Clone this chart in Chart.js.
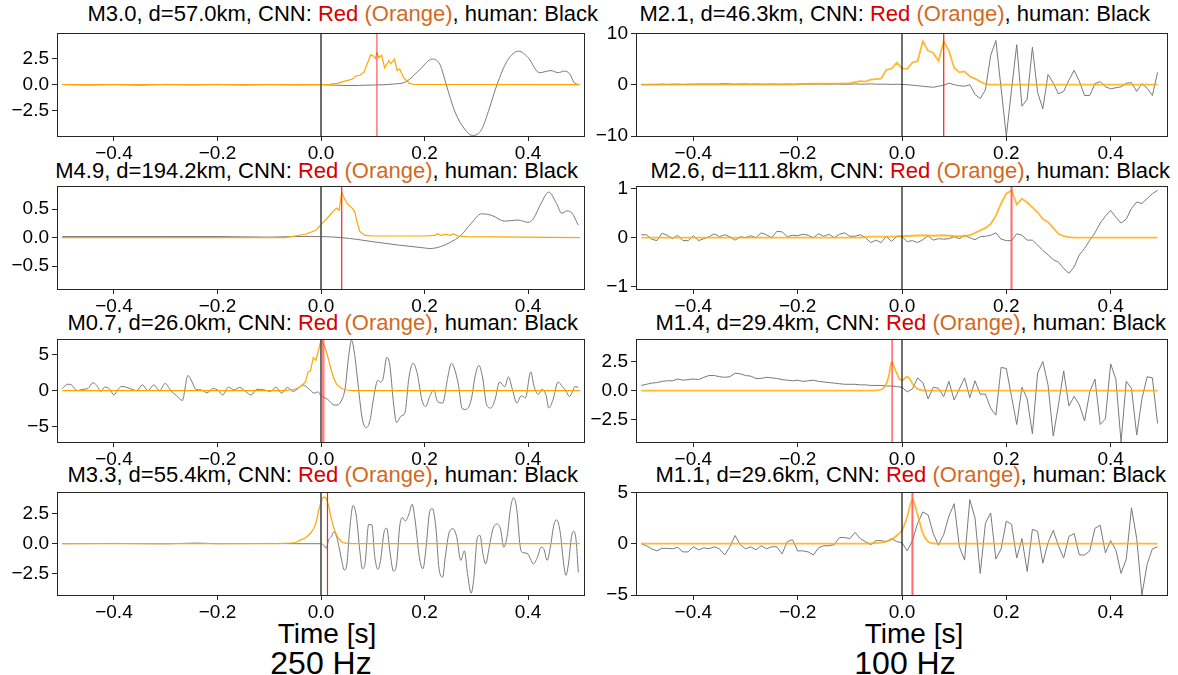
<!DOCTYPE html>
<html>
<head>
<meta charset="utf-8">
<script src="https://cdn.jsdelivr.net/npm/chart.js@4.4.1/dist/chart.umd.min.js"></script>
<style>
  body { margin: 0; background: #fff; width: 1178px; height: 675px; position: relative; overflow: hidden;
         font-family: "Liberation Sans", Arial, sans-serif; }
  canvas { position: absolute; }
  .title { position: absolute; white-space: nowrap; font-size: 22px; line-height: 24px; color: #000; }
  .red { color: #d40000; }
  .org { color: #d2691e; }
  .xlab { position: absolute; width: 400px; text-align: center; color: #000; white-space: nowrap; }
</style>
</head>
<body>

<div class="title" style="right:580px; top:2px;">M3.0, d=57.0km, CNN: <span class="red">Red</span> <span class="org">(Orange)</span>, human: Black</div>
<div class="title" style="right:600px; top:159px;">M4.9, d=194.2km, CNN: <span class="red">Red</span> <span class="org">(Orange)</span>, human: Black</div>
<div class="title" style="right:600px; top:311px;">M0.7, d=26.0km, CNN: <span class="red">Red</span> <span class="org">(Orange)</span>, human: Black</div>
<div class="title" style="right:600px; top:463px;">M3.3, d=55.4km, CNN: <span class="red">Red</span> <span class="org">(Orange)</span>, human: Black</div>

<div class="title" style="right:28px; top:2px;">M2.1, d=46.3km, CNN: <span class="red">Red</span> <span class="org">(Orange)</span>, human: Black</div>
<div class="title" style="right:8px; top:159px;">M2.6, d=111.8km, CNN: <span class="red">Red</span> <span class="org">(Orange)</span>, human: Black</div>
<div class="title" style="right:12px; top:311px;">M1.4, d=29.4km, CNN: <span class="red">Red</span> <span class="org">(Orange)</span>, human: Black</div>
<div class="title" style="right:12px; top:463px;">M1.1, d=29.6km, CNN: <span class="red">Red</span> <span class="org">(Orange)</span>, human: Black</div>

<div class="xlab" style="left:127px; top:618px; font-size:28px; line-height:32px;">Time [s]</div>
<div class="xlab" style="left:121px; top:645px; font-size:32px; line-height:36px;">250 Hz</div>
<div class="xlab" style="left:714px; top:618px; font-size:28px; line-height:32px;">Time [s]</div>
<div class="xlab" style="left:705px; top:645px; font-size:32px; line-height:36px;">100 Hz</div>

<script>
// ---------------------------------------------------------------
// Data
// ---------------------------------------------------------------

const xTicks  = [-0.4, -0.2, 0.0, 0.2, 0.4];
const xLabels = ["−0.4", "−0.2", "0.0", "0.2", "0.4"];

// 100 Hz sample times, shared by the right column
const t100 = [
  -0.50,-0.49,-0.48,-0.47,-0.46,-0.45,-0.44,-0.43,-0.42,-0.41,
  -0.40,-0.39,-0.38,-0.37,-0.36,-0.35,-0.34,-0.33,-0.32,-0.31,
  -0.30,-0.29,-0.28,-0.27,-0.26,-0.25,-0.24,-0.23,-0.22,-0.21,
  -0.20,-0.19,-0.18,-0.17,-0.16,-0.15,-0.14,-0.13,-0.12,-0.11,
  -0.10,-0.09,-0.08,-0.07,-0.06,-0.05,-0.04,-0.03,-0.02,-0.01,
   0.00, 0.01, 0.02, 0.03, 0.04, 0.05, 0.06, 0.07, 0.08, 0.09,
   0.10, 0.11, 0.12, 0.13, 0.14, 0.15, 0.16, 0.17, 0.18, 0.19,
   0.20, 0.21, 0.22, 0.23, 0.24, 0.25, 0.26, 0.27, 0.28, 0.29,
   0.30, 0.31, 0.32, 0.33, 0.34, 0.35, 0.36, 0.37, 0.38, 0.39,
   0.40, 0.41, 0.42, 0.43, 0.44, 0.45, 0.46, 0.47, 0.48, 0.49
];

// --- 250 Hz, M3.0 ---
const l1Time = [-0.5,-0.45,-0.4,-0.35,-0.3,-0.25,-0.2,-0.15,-0.1,-0.05,0.0,0.05,0.1,0.14,0.165,0.19,0.215,0.23,0.242,
  0.258,0.28,0.293,0.31,0.325,0.34,0.36,0.382,0.40,0.422,0.444,0.458,0.47,0.481,0.489,0.496];
const l1Wave = [0.03,-0.03,0.02,-0.04,0.03,-0.02,0.03,-0.03,0.02,-0.02,0.0,-0.08,-0.03,0.06,0.3,1.4,2.45,1.9,0.0,
  -2.5,-4.4,-4.85,-4.3,-2.3,0.0,2.3,3.2,2.6,1.15,1.35,1.15,1.3,1.0,0.2,0.03];
const l1ProbTime = [-0.5,0.0,0.016,0.031,0.046,0.06,0.068,0.075,0.083,0.09,0.096,0.101,0.105,0.108,0.112,0.117,0.123,
  0.131,0.135,0.142,0.147,0.152,0.16,0.171,0.18,0.5];
const l1Prob = [0,0,0.03,0.12,0.34,0.52,0.83,0.9,1.2,2.1,2.85,2.75,2.5,3.05,2.6,2.8,1.6,2.3,2.0,2.45,1.35,1.5,0.65,0.12,0.02,0];
const l1Pick = 0.108;
const l1Ylim = 4.9;
const l1YTicks = [-2.5, 0, 2.5];
const l1YLabels = ["−2.5", "0.0", "2.5"];

// --- 250 Hz, M4.9 ---
const l2Time = [-0.5,-0.4,-0.3,-0.2,-0.1,-0.05,0.0,0.04,0.07,0.1,0.15,0.2,0.21,0.23,0.25,0.27,0.29,0.31,0.33,0.355,
  0.38,0.40,0.41,0.425,0.44,0.455,0.465,0.475,0.485,0.497];
const l2Wave = [0.02,0.02,0.02,0.02,0.01,0.02,0.02,0.0,-0.03,-0.07,-0.13,-0.18,-0.19,-0.16,-0.08,0.04,0.25,0.42,0.39,0.29,
  0.31,0.27,0.33,0.6,0.8,0.6,0.43,0.47,0.43,0.22];
const l2ProbTime = [-0.5,-0.07,-0.05,-0.03,-0.01,0.0,0.01,0.02,0.03,0.035,0.04,0.045,0.05,0.06,0.065,0.07,0.075,0.085,
  0.1,0.2,0.22,0.225,0.232,0.24,0.25,0.255,0.265,0.28,0.5];
const l2Prob = [0,0,0.03,0.06,0.13,0.23,0.32,0.43,0.52,0.48,0.8,0.69,0.6,0.52,0.46,0.26,0.11,0.04,0.03,0.03,0.04,0.07,
  0.04,0.06,0.04,0.07,0.03,0.02,0];
const l2Pick = 0.04;
const l2Ylim = 0.9;
const l2YTicks = [-0.5, 0, 0.5];
const l2YLabels = ["−0.5", "0.0", "0.5"];

// --- 250 Hz, M0.7 ---
const l3Time = [-0.5,-0.489,-0.482,-0.471,-0.46,-0.45,-0.441,-0.434,-0.425,-0.418,-0.408,-0.4,-0.393,-0.385,-0.375,-0.365,
  -0.356,-0.345,-0.334,-0.323,-0.312,-0.301,-0.29,-0.279,-0.268,-0.257,-0.249,-0.242,-0.231,-0.22,-0.209,-0.198,-0.19,
  -0.179,-0.168,-0.157,-0.146,-0.135,-0.124,-0.109,-0.098,-0.087,-0.076,-0.065,-0.054,-0.046,-0.035,-0.024,-0.013,-0.006,
  0.0,0.013,0.024,0.031,0.04,0.047,0.053,0.059,0.065,0.07,0.08,0.088,0.095,0.102,0.11,0.115,0.12,0.127,0.133,0.14,0.146,
  0.155,0.162,0.17,0.178,0.186,0.195,0.202,0.21,0.218,0.225,0.235,0.245,0.252,0.258,0.265,0.273,0.28,0.29,0.298,0.305,
  0.312,0.32,0.328,0.336,0.345,0.355,0.362,0.37,0.378,0.387,0.395,0.405,0.412,0.42,0.427,0.435,0.44,0.448,0.458,0.466,
  0.473,0.48,0.486,0.49,0.497];
const l3Wave = [0.3,0.9,0.8,0.0,0.2,0.3,1.1,0.8,-0.1,0.5,0.2,-0.6,0.1,0.6,0.45,0.2,0.0,0.8,0.0,0.8,0.0,1.0,0.0,-0.7,-1.35,
  2.1,1.2,0.2,0.1,-0.3,0.3,0.0,-0.6,0.5,0.1,0.45,-0.1,-0.6,0.2,0.1,-0.1,0.5,-0.35,0.45,-0.1,0.2,0.8,0.3,-0.35,-0.15,
  -0.7,-1.2,-1.95,-2.0,-1.3,0.5,4.5,7.0,5.0,1.9,-4.0,-5.1,-4.0,-0.8,1.45,1.2,1.7,4.6,3.5,-1.7,-4.4,-3.5,-3.1,1.9,3.8,
  2.35,-1.3,-2.2,-0.8,0.1,-1.5,-1.7,1.9,3.8,3.0,1.0,-2.5,-2.6,-1.3,2.1,3.5,1.9,-1.95,-2.4,-1.3,1.2,0.55,1.9,0.1,-1.7,
  -0.7,-1.0,2.6,0.5,-0.5,0.2,-0.7,-2.4,-1.3,1.2,0.6,0.0,-0.8,-0.1,0.55,0.5];
const l3ProbTime = [-0.5,-0.07,-0.05,-0.04,-0.03,-0.025,-0.02,-0.015,-0.01,-0.005,0.0,0.005,0.01,0.015,0.02,0.025,0.03,
  0.04,0.05,0.06,0.5];
const l3Prob = [0,0,0.2,0.55,1.2,2.6,2.8,4.6,4.2,5.5,7.0,6.4,5.5,4.2,2.8,1.7,0.9,0.3,0.1,0,0];
const l3Pick = 0.004;
const l3Ylim = 7.1;
const l3YTicks = [-5, 0, 5];
const l3YLabels = ["−5", "0", "5"];

// --- 250 Hz, M3.3 ---
const l4Time = [-0.5,-0.4,-0.3,-0.24,-0.2,-0.1,-0.05,0.0,0.005,0.01,0.015,0.02,0.025,0.03,0.035,0.04,0.045,0.05,0.055,
  0.062,0.068,0.075,0.08,0.085,0.092,0.098,0.104,0.11,0.115,0.122,0.127,0.133,0.14,0.146,0.152,0.157,0.163,0.17,0.176,
  0.182,0.19,0.197,0.203,0.21,0.215,0.222,0.228,0.235,0.24,0.248,0.255,0.262,0.27,0.277,0.283,0.29,0.295,0.302,0.307,
  0.313,0.318,0.325,0.332,0.34,0.347,0.353,0.36,0.366,0.372,0.378,0.385,0.39,0.398,0.405,0.41,0.418,0.425,0.43,0.437,
  0.443,0.45,0.455,0.462,0.468,0.473,0.478,0.484,0.488,0.493,0.497];
const l4Wave = [0.0,0.02,-0.01,0.05,0.0,0.02,0.0,0.0,-0.1,-0.38,0.35,0.6,1.0,0.6,-0.3,-1.4,-2.2,-1.7,1.0,3.2,2.4,-0.6,
  -2.1,-1.7,1.6,1.6,-1.15,-2.15,-1.4,1.0,1.3,-0.6,-2.3,-1.7,1.45,2.2,1.9,2.5,3.3,1.9,-1.15,-2.1,-0.3,2.7,2.95,1.3,-2.1,
  -2.8,-1.15,1.0,1.25,0.6,-1.4,-0.6,-2.5,-4.15,-3.0,0.5,0.7,-0.9,-1.7,-0.3,1.2,1.65,1.2,-0.3,0.75,2.95,3.85,2.95,-0.3,
  -0.75,-0.8,-1.3,-1.7,-1.15,-0.3,-0.4,-1.4,-0.3,1.6,2.0,1.0,-1.4,-2.65,-1.7,0.6,1.05,0.2,-2.4];
const l4ProbTime = [-0.5,-0.1,-0.07,-0.05,-0.04,-0.03,-0.02,-0.01,-0.005,0.0,0.005,0.01,0.015,0.02,0.025,0.03,0.035,
  0.04,0.05,0.06,0.5];
const l4Prob = [0,0,0.03,0.1,0.3,0.5,0.9,1.7,2.7,3.5,3.9,3.8,3.1,2.1,1.3,0.75,0.4,0.15,0.03,0,0];
const l4Pick = 0.0125;
const l4Ylim = 4.3;
const l4YTicks = [-2.5, 0, 2.5];
const l4YLabels = ["−2.5", "0.0", "2.5"];

// --- 100 Hz, M2.1 ---
const r1Wave = [
  0,0,0.05,0.05,0.1,0.05,0.1,0.1,0.05,0.1,
  0.1,0.15,0.1,0.15,0.1,0.15,0.2,0.15,0.1,0.15,
  0.15,0.1,0.15,0.1,0.1,0.15,0.1,0.1,0.15,0.1,
  0.1,0.15,0.1,0.1,0.15,0.1,0.1,0.15,0.1,0.1,
  0.1,0.15,0.1,0.1,0.15,0.1,0.1,0.1,0.05,0.1,
  0.05,0.0,-0.1,-0.2,-0.3,-0.4,-0.5,-0.3,-0.1,0.3,
  0.0,-0.2,-0.3,0.0,-1.9,-2.7,-1.0,5.7,8.6,-0.7,
  -10.0,-1.0,7.8,-4.2,-2.8,7.3,-1.5,-4.7,2.0,0.3,
  -1.8,-1.3,0.9,2.8,0.7,-2.1,-2.1,0.2,0.6,-0.4,
  -0.8,-0.6,-0.4,0.3,0.4,-1.3,0.2,-0.7,-2.1,2.4
];
const r1ProbTime = [-0.5,-0.21,-0.2,-0.17,-0.12,-0.1,-0.09,-0.08,-0.07,-0.06,-0.05,-0.04,-0.03,-0.02,-0.01,0.0,0.01,
  0.02,0.03,0.04,0.05,0.06,0.07,0.08,0.09,0.10,0.11,0.12,0.13,0.14,0.15,0.16,0.17,0.49];
const r1Prob = [0,0,0.1,0.2,0.2,0.3,0.5,0.7,0.6,1.0,1.1,1.2,2.9,3.1,4.3,3.2,3.1,4.3,4.6,8.5,6.6,6.2,4.6,8.4,6.6,3.3,
  2.4,2.6,1.6,1.2,0.6,0.1,0,0];
const r1Pick = 0.08;
const r1Ylim = 10;
const r1YTicks = [-10, 0, 10];
const r1YLabels = ["−10", "0", "10"];

// --- 100 Hz, M2.6 ---
const r2Wave = [
  0.06,0.06,-0.03,-0.06,0.09,0.05,-0.02,0.05,-0.06,-0.06,
  0.04,-0.06,-0.02,0.02,0.08,0.02,0.06,0.02,-0.05,0.02,
  0.0,0.04,0.0,0.1,0.06,0.0,0.13,0.12,0.02,0.05,
  0.04,0.07,0.05,0.0,0.08,0.03,0.07,0.0,0.07,0.1,
  0.03,0.03,0.06,0.0,-0.1,-0.05,-0.1,0.03,-0.08,0.03,
  0.02,-0.08,-0.06,-0.1,-0.04,0.04,-0.05,-0.02,-0.03,-0.02,
  0.02,-0.02,0.05,0.0,-0.04,0.02,0.03,0.05,0.1,-0.03,
  -0.06,-0.06,0.08,0.05,-0.05,-0.05,-0.15,-0.26,-0.35,-0.45,
  -0.5,-0.63,-0.73,-0.6,-0.35,-0.22,-0.05,0.1,0.3,0.44,
  0.56,0.42,0.3,0.38,0.6,0.73,0.7,0.8,0.9,0.97
];
const r2ProbTime = [-0.5,-0.08,-0.06,-0.04,-0.02,0.0,0.02,0.04,0.06,0.08,0.10,0.12,0.13,0.14,0.15,0.16,0.17,0.18,0.19,
  0.20,0.21,0.22,0.23,0.24,0.25,0.26,0.27,0.28,0.29,0.30,0.31,0.32,0.33,0.49];
const r2Prob = [0,0,0.02,0.02,0.02,0.03,0.04,0.05,0.04,0.05,0.03,0.03,0.05,0.1,0.15,0.2,0.28,0.45,0.7,0.9,0.97,0.68,
  0.8,0.72,0.62,0.52,0.38,0.32,0.2,0.08,0.03,0.01,0,0];
const r2Pick = 0.21;
const r2Ylim = 1.05;
const r2YTicks = [-1, 0, 1];
const r2YLabels = ["−1", "0", "1"];

// --- 100 Hz, M1.4 ---
const r3Wave = [
  0.45,0.55,0.65,0.7,0.8,0.85,0.85,1.0,0.9,0.95,
  1.0,0.95,1.15,1.3,1.3,1.2,1.15,1.2,1.5,1.45,
  1.3,1.25,1.05,1.05,1.15,1.1,1.05,0.95,0.9,0.85,
  0.9,0.8,0.85,0.9,0.8,0.75,0.7,0.65,0.6,0.55,
  0.55,0.55,0.5,0.5,0.45,0.45,0.45,0.4,0.4,0.35,
  0.3,-0.1,0.15,1.1,0.7,-0.7,0.3,0.2,-0.5,0.8,
  -0.8,0.15,1.1,-0.6,0.85,-0.3,-0.3,-1.5,-2.1,2.0,
  1.9,-0.5,-2.9,0.3,-0.7,-3.7,1.5,2.5,0.5,-3.9,
  -1.2,1.7,-1.3,-0.5,-1.2,-2.6,-0.1,1.0,-2.9,-2.4,
  2.3,1.0,-4.4,0.8,0.2,-3.8,-0.7,1.2,1.1,-2.8
];
const r3ProbTime = [-0.5,-0.06,-0.05,-0.04,-0.035,-0.03,-0.025,-0.02,-0.015,-0.01,-0.005,0.0,0.005,0.01,0.015,0.02,
  0.025,0.03,0.04,0.05,0.49];
const r3Prob = [0,0,0.02,0.1,0.25,0.6,1.3,2.45,2.0,1.5,1.0,0.9,1.05,1.2,1.0,0.6,0.35,0.15,0.02,0,0];
const r3Pick = -0.019;
const r3Ylim = 4.4;
const r3YTicks = [-2.5, 0, 2.5];
const r3YLabels = ["−2.5", "0.0", "2.5"];

// --- 100 Hz, M1.1 ---
const r4Wave = [
  0.0,-0.2,-0.5,-0.7,-0.45,-0.45,-0.5,-0.35,-0.8,-0.8,
  -0.3,-0.6,-0.4,-0.5,-0.3,-0.5,-1.1,-0.3,0.8,-0.1,
  -0.5,-0.3,-0.6,-0.2,-0.5,-0.3,-0.3,-1.0,0.2,0.4,
  -0.7,-0.7,-0.8,-1.1,-0.4,-0.2,-0.2,-0.1,0.6,0.6,
  0.5,1.1,0.5,0.2,-0.1,0.3,0.3,0.2,0.5,0.2,
  0.1,-0.7,0.3,2.0,3.1,2.8,1.0,-0.15,0.9,2.7,
  3.9,-0.3,-1.6,4.3,2.5,-2.9,2.0,3.0,-1.5,-0.5,
  2.2,1.9,-1.4,0.5,-2.7,1.4,1.2,-1.9,0.1,1.3,
  -0.2,-1.4,0.7,1.0,-1.1,-1.1,-0.7,1.5,1.8,-0.9,
  0.3,-0.6,-2.9,-1.5,3.5,0.5,-5.0,-2.0,-0.5,-0.3
];
const r4ProbTime = [-0.5,-0.08,-0.06,-0.05,-0.04,-0.03,-0.02,-0.01,0.0,0.01,0.02,0.03,0.04,0.05,0.06,0.07,0.49];
const r4Prob = [0,0,0.03,0.05,0.1,0.2,0.4,0.8,1.3,2.6,4.3,2.8,1.0,0.2,0.03,0,0];
const r4Pick = 0.02;
const r4Ylim = 5;
const r4YTicks = [-5, 0, 5];
const r4YLabels = ["−5", "0", "5"];

// ---------------------------------------------------------------
// Layout / styles
// ---------------------------------------------------------------

const BOX_X   = [[57, 585], [636, 1168]];   // plot box left/right per column
const BOX_TOP = [31, 184, 337, 490];
const BOX_H   = 105;
const AX_W = 60, AX_H = 30, PAD_T = 12, PAD_R = 8;
const XMIN = -0.51, XMAX = 0.51;
const TICK_FONT = 19;

Chart.defaults.font.family = '"Liberation Sans", Arial, sans-serif';
Chart.defaults.color = "#000";

const panels = [
  { col:0, row:0, time:l1Time, wave:l1Wave, probTime:l1ProbTime, prob:l1Prob, pick:l1Pick, ylim:l1Ylim, yTicks:l1YTicks, yLabels:l1YLabels,
    redColor:"rgba(255,70,70,0.75)", redWidth:1.5, smoothProb:false },
  { col:0, row:1, time:l2Time, wave:l2Wave, probTime:l2ProbTime, prob:l2Prob, pick:l2Pick, ylim:l2Ylim, yTicks:l2YTicks, yLabels:l2YLabels,
    redColor:"#ff2020", redWidth:1.2, smoothProb:false },
  { col:0, row:2, time:l3Time, wave:l3Wave, probTime:l3ProbTime, prob:l3Prob, pick:l3Pick, ylim:l3Ylim, yTicks:l3YTicks, yLabels:l3YLabels,
    redColor:"rgba(255,80,80,0.7)", redWidth:3, smoothProb:false },
  { col:0, row:3, time:l4Time, wave:l4Wave, probTime:l4ProbTime, prob:l4Prob, pick:l4Pick, ylim:l4Ylim, yTicks:l4YTicks, yLabels:l4YLabels,
    redColor:"#ff2020", redWidth:1.2, smoothProb:true },
  { col:1, row:0, time:t100, wave:r1Wave, probTime:r1ProbTime, prob:r1Prob, pick:r1Pick, ylim:r1Ylim, yTicks:r1YTicks, yLabels:r1YLabels,
    redColor:"#ff1a1a", redWidth:1.2, smoothProb:false },
  { col:1, row:1, time:t100, wave:r2Wave, probTime:r2ProbTime, prob:r2Prob, pick:r2Pick, ylim:r2Ylim, yTicks:r2YTicks, yLabels:r2YLabels,
    redColor:"rgba(255,70,70,0.8)", redWidth:2, smoothProb:false },
  { col:1, row:2, time:t100, wave:r3Wave, probTime:r3ProbTime, prob:r3Prob, pick:r3Pick, ylim:r3Ylim, yTicks:r3YTicks, yLabels:r3YLabels,
    redColor:"#ff1a1a", redWidth:1, smoothProb:true },
  { col:1, row:3, time:t100, wave:r4Wave, probTime:r4ProbTime, prob:r4Prob, pick:r4Pick, ylim:r4Ylim, yTicks:r4YTicks, yLabels:r4YLabels,
    redColor:"rgba(255,70,70,0.8)", redWidth:2, smoothProb:true },
];

// full rectangle round the plot area (matplotlib spines)
const boxPlugin = {
  id: "box",
  afterDatasetsDraw(chart) {
    const { ctx, chartArea: a } = chart;
    ctx.save();
    ctx.strokeStyle = "#262626";
    ctx.lineWidth = 1;
    ctx.strokeRect(Math.round(a.left) + 0.5, Math.round(a.top) + 0.5,
                   Math.round(a.right - a.left) - 1, Math.round(a.bottom - a.top));
    ctx.restore();
  }
};

function pairs(ts, vs) {
  return ts.map((t, i) => ({ x: t, y: vs[i] }));
}

function makePanel(p) {
  const [x0, x1] = BOX_X[p.col];
  const top = BOX_TOP[p.row];
  const W = AX_W + (x1 - x0) + PAD_R;
  const H = PAD_T + BOX_H + AX_H;

  const cv = document.createElement("canvas");
  cv.width = W; cv.height = H;
  cv.style.width = W + "px"; cv.style.height = H + "px";
  cv.style.left = (x0 - AX_W) + "px";
  cv.style.top = (top - PAD_T) + "px";
  document.body.appendChild(cv);

  const left = p.col === 0;

  new Chart(cv, {
    type: "line",
    data: {
      datasets: [
        { data: [{ x: p.pick, y: -p.ylim }, { x: p.pick, y: p.ylim }],
          borderColor: p.redColor, borderWidth: p.redWidth, order: 0 },
        { data: [{ x: 0, y: -p.ylim }, { x: 0, y: p.ylim }],
          borderColor: left ? "rgba(85,85,85,0.85)" : "#111", borderWidth: left ? 2 : 1.2, order: 1 },
        { data: pairs(p.probTime, p.prob),
          borderColor: left ? "#ffa500" : "rgba(255,168,0,0.8)", borderWidth: left ? 1.2 : 1.8,
          cubicInterpolationMode: p.smoothProb ? "monotone" : "default", tension: 0, order: 2 },
        { data: pairs(p.time, p.wave),
          borderColor: "#7a7a7a", borderWidth: 1,
          cubicInterpolationMode: left ? "monotone" : "default", tension: 0, order: 3 },
      ],
    },
    options: {
      responsive: false,
      animation: false,
      devicePixelRatio: 1,
      layout: { padding: { top: PAD_T, right: PAD_R, left: 0, bottom: 0 } },
      elements: { point: { radius: 0 }, line: { fill: false } },
      plugins: { legend: { display: false }, tooltip: { enabled: false } },
      scales: {
        x: {
          type: "linear", min: XMIN, max: XMAX,
          afterBuildTicks: s => { s.ticks = xTicks.map(v => ({ value: v })); },
          afterFit: s => { s.height = AX_H; },
          ticks: { autoSkip: false, maxRotation: 0, padding: 1, color: "#000",
                   font: { size: TICK_FONT }, callback: (v, i) => xLabels[i] },
          grid: { drawOnChartArea: false, tickLength: 5, color: "#262626" },
          border: { display: false },
        },
        y: {
          type: "linear", min: -p.ylim, max: p.ylim,
          afterBuildTicks: s => { s.ticks = p.yTicks.map(v => ({ value: v })); },
          afterFit: s => { s.width = AX_W; },
          ticks: { autoSkip: false, padding: 3, color: "#000",
                   font: { size: TICK_FONT }, callback: (v, i) => p.yLabels[i] },
          grid: { drawOnChartArea: false, tickLength: 5, color: "#262626" },
          border: { display: false },
        },
      },
    },
    plugins: [boxPlugin],
  });
}

panels.forEach(makePanel);
</script>
</body>
</html>
